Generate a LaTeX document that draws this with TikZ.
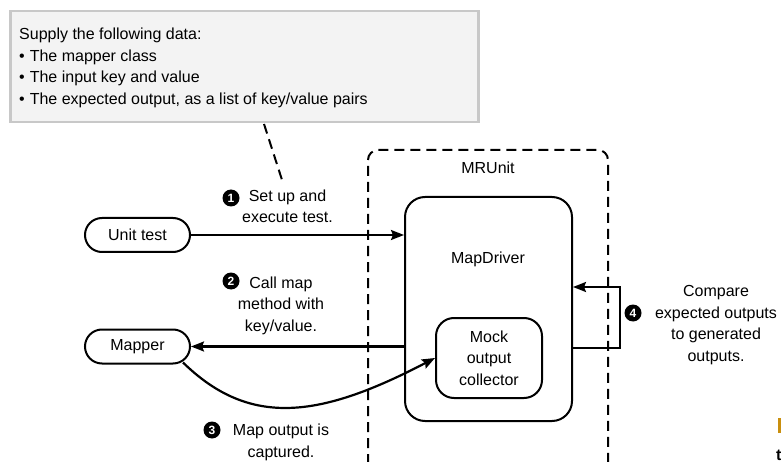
\documentclass[tikz,border=0pt]{standalone}
\usepackage{fontspec}
\setmainfont{Liberation Sans}
\usetikzlibrary{arrows.meta,calc}

\definecolor{notefill}{HTML}{F3F3F3}
\definecolor{noteline}{HTML}{C8C8C8}
\definecolor{captionorange}{HTML}{C98F0E}

\tikzset{
  txt/.style={font=\fontsize{16}{21.5}\selectfont, inner sep=0pt, align=center},
  pill/.style={draw, line width=2pt, rounded corners=17pt, minimum width=105pt,
    minimum height=34pt, inner sep=0pt, font=\fontsize{16}{19}\selectfont},
  block/.style={draw, line width=2pt, inner sep=0pt},
  stepnum/.style={circle, fill=black, text=white, inner sep=0pt, minimum size=17pt,
    font=\bfseries\fontsize{12}{12}\selectfont},
  arr/.style={line width=2.2pt, -{Stealth[length=13pt,width=10pt,inset=2pt]}},
  fence/.style={line width=2pt, dash pattern=on 10pt off 6pt},
}

\begin{document}
\begin{tikzpicture}[x=1pt, y=-1pt]
\useasboundingbox (0,0) rectangle (781,462);
\clip (0,0) rectangle (781,462);

% note listing the test inputs
\node[draw=noteline, line width=2.5pt, fill=notefill, minimum width=468pt,
  minimum height=111pt, inner sep=0pt] (note) at (244.5,66.5) {};
\node[txt, anchor=base west] (n1) at (19,40) {Supply the following data:};
\node[txt, anchor=base west] (n2) at (19,61.5) {\textbullet\hspace{5pt}The mapper class};
\node[txt, anchor=base west] (n3) at (19,83) {\textbullet\hspace{5pt}The input key and value};
\node[txt, anchor=base west] (n4) at (19,104.5) {\textbullet\hspace{5pt}The expected output, as a list of key/value pairs};
\coordinate (leaderend) at (283,183);
\draw[fence] (264,124) -- (leaderend);

% MRUnit frame (runs off the bottom)
\draw[fence, rounded corners=10pt] (368,480) -- (368,150) -- (608,150) -- (608,480);
\node[txt, anchor=base] (mru) at (488,174) {MRUnit};

% driver and collector
\node[block, rounded corners=20pt, minimum width=167pt, minimum height=224pt] (md) at (488.5,309) {};
\node[txt, anchor=base] (mdl) at (488,263) {MapDriver};
\node[block, rounded corners=18pt, minimum width=106pt, minimum height=80pt,
  txt] (mk) at (489,358) {Mock\\output\\collector};

% actors
\node[pill] (ut) at (137.5,235) {Unit test};
\node[pill] (mp) at (137.5,346.5) {Mapper};

% step 1 (label anchored on its last line)
\draw[arr] (ut.east) -- (ut.east -| md.west);
\node[stepnum] (s1) at (231,198) {1};
\node[txt, anchor=base] (l1) at (287.5,223) {Set up and\\execute test.};

% step 2
\draw[arr] (mp.east -| md.west) -- (mp.east);
\node[stepnum] (s2) at (231,281) {2};
\node[txt, anchor=base] (l2) at (281,331) {Call map\\method with\\key/value.};

% step 3
\draw[arr] ([xshift=-8pt,yshift=2pt]mp.south east)
  .. controls (250,428) and (320,418) .. (mk.west);
\node[stepnum] (s3) at (212,430) {3};
\node[txt, anchor=base] (l3) at (281,457) {Map output is\\captured.};

% step 4
\coordinate (c4a) at (620,348);
\coordinate (c4b) at (620,287);
\draw[arr] (c4a -| md.east) -- (c4a) -- (c4b) -- (c4b -| md.east);
\node[stepnum] (s4) at (633,313) {4};
\node[txt, anchor=base] (l4) at (716,361) {Compare\\expected outputs\\to generated\\outputs.};

% edge of the caption
\fill[captionorange] (778,418) rectangle (782,433);
\node[anchor=base west, inner sep=0pt, font=\bfseries\fontsize{16}{16}\selectfont] (cap) at (776,460) {t};
\end{tikzpicture}
\end{document}
